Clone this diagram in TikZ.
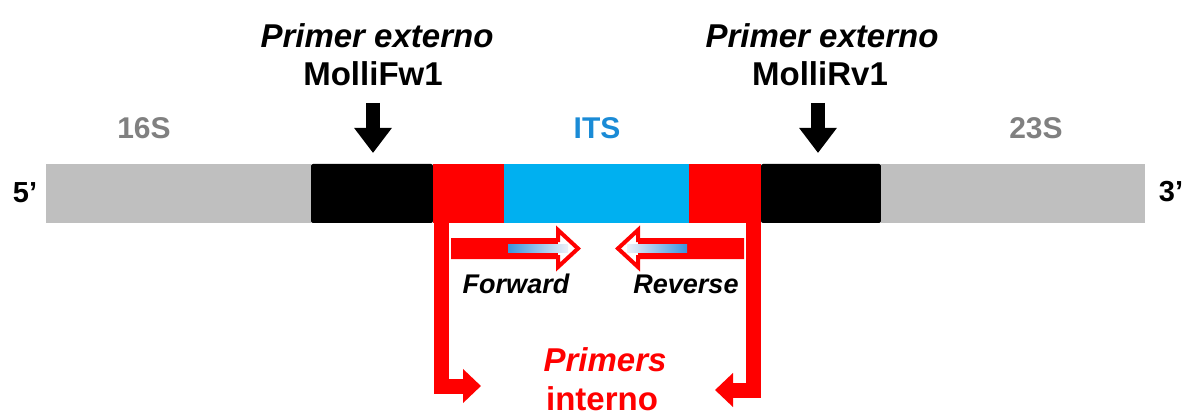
\documentclass[tikz,border=0pt]{standalone}
\usepackage{fontspec}
\setmainfont{Liberation Sans}
\usetikzlibrary{arrows.meta}
\definecolor{barGray}{HTML}{BFBFBF}
\definecolor{lblGray}{HTML}{808080}
\definecolor{itsBlue}{HTML}{00B0F0}
\definecolor{itsText}{HTML}{1A8BD6}
\definecolor{prRed}{HTML}{FF0000}
\definecolor{gradBlue}{HTML}{3A94DC}
\definecolor{gradLight}{HTML}{EEF1F8}
\begin{document}
\begin{tikzpicture}[x=1pt,y=-1pt,
  seg/.style={draw=none,inner sep=0pt,outer sep=0pt,minimum height=59pt},
  big/.style={font=\bfseries\fontsize{33}{36}\selectfont,inner sep=0pt,anchor=base},
  bigit/.style={font=\bfseries\itshape\fontsize{33}{36}\selectfont,inner sep=0pt,anchor=base},
  region/.style={font=\bfseries\fontsize{30}{32}\selectfont,inner sep=0pt,anchor=base},
  primtxt/.style={font=\bfseries\itshape\fontsize{27}{29}\selectfont,inner sep=0pt,anchor=base},
  downarrow/.style={line width=14pt,-{Triangle[length=25pt,width=36pt]},shorten >=11pt},
  redL/.style={draw=prRed,line width=15pt,line join=miter,-{Triangle[length=18pt,width=33pt]}},
  blockarrow/.style={draw=prRed,line width=4pt,line join=miter,fill=white}
]
\useasboundingbox (0,0) rectangle (1187,417);

% bar segments
\node[seg,fill=barGray,minimum width=265pt] (g1) at (178.5,193.5) {};
\node[seg,fill=black,minimum width=122pt,rounded corners=2pt] (k1) at (372,193.5) {};
\node[seg,fill=prRed,minimum width=71pt] (r1) at (468.5,193.5) {};
\node[seg,fill=itsBlue,minimum width=185pt] (b1) at (596.5,193.5) {};
\node[seg,fill=prRed,minimum width=72pt] (r2) at (725,193.5) {};
\node[seg,fill=black,minimum width=120pt,rounded corners=2pt] (k2) at (821,193.5) {};
\node[seg,fill=barGray,minimum width=264pt] (g2) at (1013,193.5) {};

% end labels
\node[font=\bfseries\fontsize{29}{31}\selectfont,inner sep=0pt,anchor=base] (five) at (25,203) {5’};
\node[font=\bfseries\fontsize{29}{31}\selectfont,inner sep=0pt,anchor=base] (three) at (1171,201) {3’};

% region labels
\node[region,text=lblGray] (l16) at (144,139) {16S};
\node[region,text=itsText] (lits) at (597,139) {ITS};
\node[region,text=lblGray] (l23) at (1036,139) {23S};

% external primers
\node[bigit] (pe1) at (377,48) {Primer externo};
\node[big] (fw1) at (373,86) {MolliFw1};
\node[bigit] (pe2) at (822,48) {Primer externo};
\node[big] (rv1) at (820,86) {MolliRv1};
\coordinate (a1) at (373,103);
\coordinate (a2) at (818,103);
\draw[downarrow] (a1) -- (a1 |- k1.north);
\draw[downarrow] (a2) -- (a2 |- k2.north);

% internal primer L-arrows
\coordinate (ls) at (441.5,223);
\coordinate (lt) at (481,386);
\coordinate (rs) at (753,223);
\coordinate (rt) at (715,390);
\draw[redL] (ls) |- (lt);
\draw[redL] (rs) |- (rt);

% forward block arrow
\draw[blockarrow] (453,240) -- (558,240) -- (558,230) -- (578,248.5) -- (558,267) -- (558,257) -- (453,257) -- cycle;
\fill[prRed] (453,240) rectangle (558,257);
\shade[left color=gradBlue,right color=gradLight] (508,244.5) rectangle (568,252.5);
% reverse block arrow
\draw[blockarrow] (742,240) -- (638,240) -- (638,230) -- (618,248.5) -- (638,267) -- (638,257) -- (742,257) -- cycle;
\fill[prRed] (638,240) rectangle (742,257);
\shade[left color=gradLight,right color=gradBlue] (627,244.5) rectangle (687,252.5);

\node[primtxt] (fwd) at (516,293) {Forward};
\node[primtxt] (rev) at (686,293) {Reverse};

% internal primers label
\node[bigit,text=prRed] (prim) at (605,371) {Primers};
\node[big,text=prRed] (intn) at (602,410) {interno};
\end{tikzpicture}
\end{document}
